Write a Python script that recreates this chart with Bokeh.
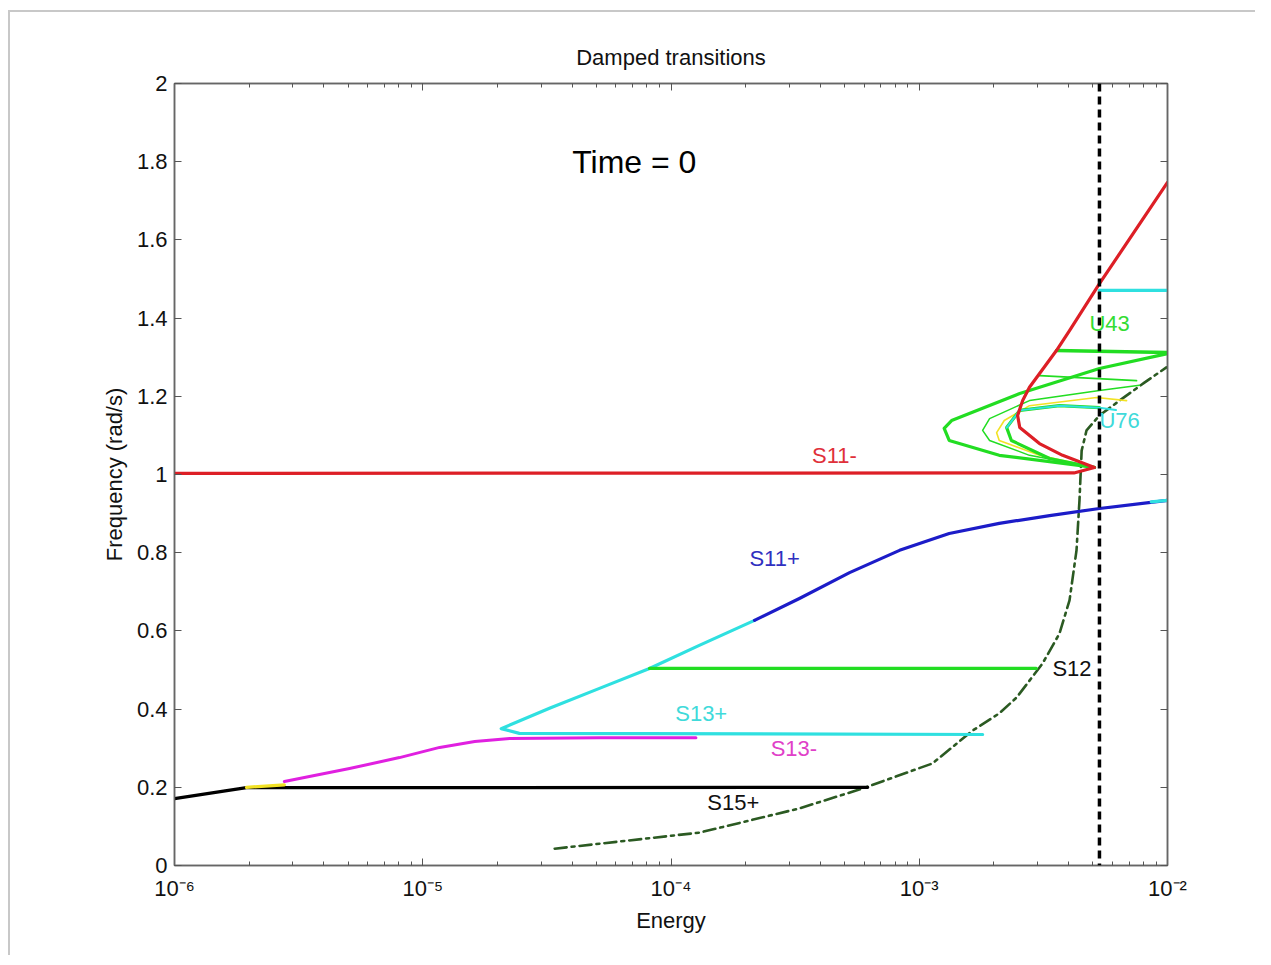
from bokeh.plotting import figure
from bokeh.models import LogAxis, LinearAxis, CustomJSTickFormatter, FixedTicker, LogTicker, Label, Span
from bokeh.embed import file_html
from bokeh.resources import INLINE

# ---------------- data (Energy, Frequency rad/s) ----------------
s15p_x = [1e-6, 1.95e-6, 6.2e-4]
s15p_y = [0.171, 0.199, 0.200]

yel_lo_x = [1.95e-6, 2.77e-6]
yel_lo_y = [0.200, 0.206]

s13m_x = [2.77e-6, 5.07e-6, 8.06e-6, 1.17e-5, 1.62e-5, 2.24e-5, 5.15e-5, 1.26e-4]
s13m_y = [0.215, 0.248, 0.276, 0.302, 0.317, 0.325, 0.327, 0.327]

s13p_x = [1.80e-3, 2.45e-5, 2.07e-5, 3.24e-5, 5.15e-5, 8.19e-5, 1.30e-4, 2.17e-4]
s13p_y = [0.335, 0.338, 0.350, 0.402, 0.453, 0.504, 0.563, 0.627]

s11p_x = [2.17e-4, 3.29e-4, 5.24e-4, 8.33e-4, 1.32e-3, 2.10e-3, 3.35e-3, 5.32e-3, 1e-2]
s11p_y = [0.627, 0.683, 0.749, 0.806, 0.849, 0.875, 0.895, 0.913, 0.934]

s11p_tip_x = [8.6e-3, 1e-2]
s11p_tip_y = [0.930, 0.934]

s12_x = [8.19e-5, 2.96e-3]
s12_y = [0.504, 0.504]

s11m_x = [1e-6, 4.2e-3, 5.08e-3, 3.78e-3, 3.05e-3, 2.54e-3, 2.49e-3, 2.61e-3, 2.78e-3,
          3.57e-3, 4.03e-3, 5.32e-3, 1e-2]
s11m_y = [1.003, 1.004, 1.018, 1.049, 1.079, 1.120, 1.151, 1.189, 1.223,
          1.317, 1.368, 1.488, 1.747]

u43_outer_x = [5.08e-3, 2.10e-3, 1.32e-3, 1.26e-3, 1.35e-3, 2.54e-3, 5.32e-3, 1e-2]
u43_outer_y = [1.018, 1.049, 1.087, 1.118, 1.138, 1.207, 1.271, 1.309]

u43_top_x = [3.57e-3, 1e-2]
u43_top_y = [1.317, 1.312]

u43_mid_x = [3.05e-3, 7.50e-3]
u43_mid_y = [1.253, 1.240]

thin_x = [5.08e-3, 2.78e-3, 1.92e-3, 1.80e-3, 1.92e-3, 2.78e-3, 5.32e-3, 7.71e-3]
thin_y = [1.018, 1.049, 1.087, 1.113, 1.143, 1.189, 1.215, 1.228]

yel_hi_x = [5.08e-3, 3.05e-3, 2.10e-3, 2.05e-3, 2.20e-3, 2.78e-3, 5.18e-3, 6.84e-3]
yel_hi_y = [1.018, 1.049, 1.087, 1.107, 1.138, 1.176, 1.197, 1.189]

inner_x = [5.08e-3, 3.35e-3, 2.35e-3, 2.25e-3, 2.54e-3, 3.67e-3, 5.32e-3]
inner_y = [1.018, 1.041, 1.087, 1.120, 1.164, 1.176, 1.171]

u76_x = [2.25e-3, 2.54e-3, 3.67e-3, 5.32e-3, 6.2e-3]
u76_y = [1.120, 1.164, 1.176, 1.171, 1.165]

cyan_top_x = [5.32e-3, 1e-2]
cyan_top_y = [1.471, 1.471]

ridge_x = [3.4e-5, 1.30e-4, 2.07e-4, 3.29e-4, 5.91e-4, 1.13e-3, 1.64e-3, 2.10e-3, 2.47e-3,
           3.14e-3, 3.67e-3, 4.03e-3, 4.30e-3, 4.42e-3, 4.51e-3, 4.72e-3, 5.32e-3,
           6.41e-3, 8.07e-3, 9.9e-3]
ridge_y = [0.043, 0.084, 0.115, 0.146, 0.197, 0.261, 0.345, 0.389, 0.430,
           0.517, 0.593, 0.678, 0.806, 0.934, 1.061, 1.113, 1.151,
           1.189, 1.235, 1.274]

time_line_x = 5.32e-3

labels_text = ["S11-", "S11+", "S13+", "S13-", "S15+", "S12", "U43", "U76"]
labels_x = [3.7e-4, 2.07e-4, 1.04e-4, 2.52e-4, 1.40e-4, 3.44e-3, 4.85e-3, 5.32e-3]
labels_y = [1.049, 0.785, 0.389, 0.299, 0.161, 0.504, 1.386, 1.138]
labels_color = ["#e0303a", "#3030c0", "#40dada", "#e040c8", "#111111", "#111111", "#33dd33", "#40dada"]

y_ticks = [0, 0.2, 0.4, 0.6, 0.8, 1.0, 1.2, 1.4, 1.6, 1.8, 2.0]
x_range = (1e-6, 1e-2)
y_range = (0, 2)

# ---------------- figure ----------------
FONT = "Liberation Sans"
p = figure(width=1247, height=945, x_axis_type="log",
           x_range=x_range, y_range=y_range,
           output_backend="svg", toolbar_location=None,
           min_border_left=164, min_border_right=90,
           min_border_top=71, min_border_bottom=92,
           title="Damped transitions")
p.margin = (10, 0, 0, 8)
p.styles = {"border-top": "2px solid #c8c8c8", "border-left": "2px solid #c8c8c8"}
p.grid.grid_line_color = None
p.outline_line_color = "#666666"
p.outline_line_width = 1.5
p.title.align = "center"
p.title.text_font = FONT
p.title.text_font_style = "normal"
p.title.text_font_size = "22px"
p.title.text_color = "#111111"
p.title.standoff = 27

log_fmt = CustomJSTickFormatter(code="""
const e = Math.round(Math.log10(tick));
const sup = {'-':'\u207b','0':'\u2070','1':'\u00b9','2':'\u00b2','3':'\u00b3','4':'\u2074','5':'\u2075','6':'\u2076','7':'\u2077','8':'\u2078','9':'\u2079'};
return '10' + String(e).split('').map(c => sup[c]).join('');
""")
y_fmt = CustomJSTickFormatter(code="return (Math.round(tick*10)/10).toString();")

def style_axis(ax, labels=True):
    ax.axis_line_color = "#666666"
    ax.axis_line_width = 1.5
    ax.major_tick_in = 7
    ax.major_tick_out = 0
    ax.major_tick_line_color = "#555555"
    ax.minor_tick_in = 4
    ax.minor_tick_out = 0
    ax.minor_tick_line_color = "#555555"
    ax.major_label_text_font = FONT
    ax.major_label_text_font_size = "22px" if labels else "0px"
    ax.major_label_text_color = "#111111"
    ax.axis_label_text_font = FONT
    ax.axis_label_text_font_style = "normal"
    ax.axis_label_text_font_size = "22px"
    ax.axis_label_text_color = "#111111"

xa = p.xaxis[0]
xa.ticker = LogTicker(num_minor_ticks=10)
xa.formatter = log_fmt
xa.axis_label = "Energy"
style_axis(xa)
xa.major_label_standoff = 10
xa.axis_label_standoff = 4

ya = p.yaxis[0]
ya.ticker = FixedTicker(ticks=y_ticks)
ya.formatter = y_fmt
ya.axis_label = "Frequency (rad/s)"
style_axis(ya)
ya.minor_tick_line_color = None
ya.major_label_standoff = 7
ya.axis_label_standoff = 7

top = LogAxis(ticker=LogTicker(num_minor_ticks=10), formatter=log_fmt)
style_axis(top, labels=False)
p.add_layout(top, "above")
right = LinearAxis(ticker=FixedTicker(ticks=y_ticks), formatter=y_fmt)
style_axis(right, labels=False)
right.minor_tick_line_color = None
p.add_layout(right, "right")

RED = "#dd1f26"
BLUE = "#1c1cc8"
CYAN = "#2fe0e0"
GREEN = "#22dd22"
MAG = "#e020e0"
YEL = "#f2e225"

def ln(xs, ys, color, w=3.2, dash="solid"):
    p.line(xs, ys, line_color=color, line_width=w, line_dash=dash,
           line_join="round", line_cap="round")

# ridge (dash-dot)
ln(ridge_x, ridge_y, "#2b5a22", 2.6, "12 5 3 5")

ln(s15p_x, s15p_y, "#000000", 3.2)
ln(yel_lo_x, yel_lo_y, YEL, 3.2)
ln(s13p_x, s13p_y, CYAN, 3.2)
ln(s13m_x, s13m_y, MAG, 3.0)
ln(s12_x, s12_y, GREEN, 3.2)
ln(s11p_x, s11p_y, BLUE, 3.2)
ln(s11p_tip_x, s11p_tip_y, CYAN, 3.2)

ln(u43_outer_x, u43_outer_y, GREEN, 3.2)
ln(thin_x, thin_y, GREEN, 1.5)
ln(yel_hi_x, yel_hi_y, YEL, 1.6)
ln(inner_x, inner_y, GREEN, 3.2)
ln(u76_x, u76_y, CYAN, 2.0)
ln(u43_top_x, u43_top_y, GREEN, 3.4)
ln(u43_mid_x, u43_mid_y, GREEN, 1.8)
ln(cyan_top_x, cyan_top_y, CYAN, 3.2)
ln(s11m_x, s11m_y, RED, 3.2)

# vertical time marker
p.add_layout(Span(location=time_line_x, dimension="height", line_color="#000000",
                  line_width=3.5, line_dash="8 5"))

for t, x, y, c in zip(labels_text, labels_x, labels_y, labels_color):
    p.add_layout(Label(x=x, y=y, text=t, text_color=c, text_font=FONT,
                       text_font_size="22px", text_baseline="middle", text_align="left"))

p.add_layout(Label(x=4.0e-5, y=1.8, text="Time = 0", text_color="#000000", text_font=FONT,
                   text_font_size="32px", text_baseline="middle", text_align="left"))

open("out.html", "w").write(file_html(p, INLINE))
